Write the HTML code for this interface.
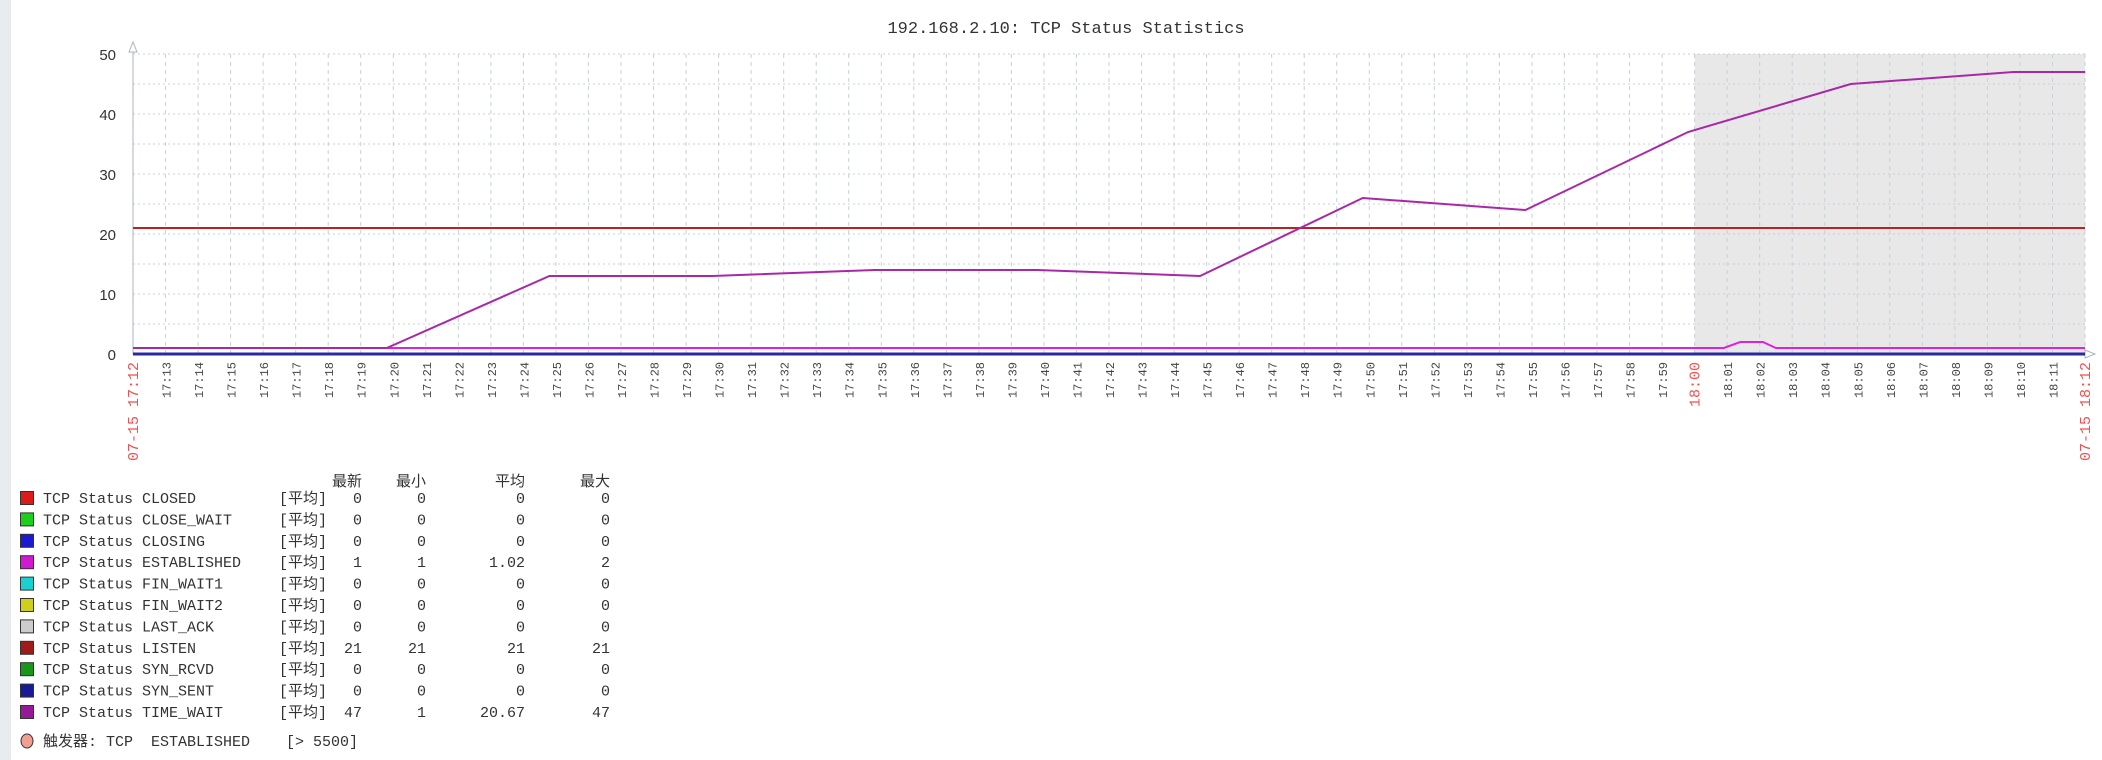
<!DOCTYPE html>
<html><head><meta charset="utf-8">
<style>
body{margin:0;width:2102px;height:760px;background:#fff;overflow:hidden;font-family:"Liberation Mono","Noto Sans CJK SC",monospace;}
#strip{position:absolute;left:0;top:0;width:11px;height:760px;background:#e8ecf0;}
svg{position:absolute;left:0;top:0;}
svg text{white-space:pre;}
</style></head><body>
<div id="strip"></div>
<svg id="chart" width="2102" height="760"></svg>
<script>
const yTicks=[0,10,20,30,40,50];
const minuteLabels=[];for(let i=13;i<=59;i++)minuteLabels.push("17:"+i);for(let i=0;i<=11;i++)minuteLabels.push("18:"+String(i).padStart(2,"0"));
const timeWaitT=[0,7.8,12.8,17.8,22.8,27.8,32.8,37.8,42.8,47.8,52.8,57.8,60];
const timeWaitV=[1,1,13,13,14,14,13,26,24,37,45,47,47];
const establishedT=[0,48.9,49.4,50.1,50.5,60];
const establishedV=[1,1,2,2,1,1];
const listenT=[0,60];const listenV=[21,21];
const zeroT=[0,60];const zeroV=[0,0];
const legendNames=["CLOSED","CLOSE_WAIT","CLOSING","ESTABLISHED","FIN_WAIT1","FIN_WAIT2","LAST_ACK","LISTEN","SYN_RCVD","SYN_SENT","TIME_WAIT"];
const legendColors=["#dd1a1a","#1ad01a","#1a1ad0","#d01ad0","#1ad0d0","#d0d01a","#cccccc","#a01a1a","#1a961a","#1a1a96","#961a96"];
const legendLast=["0","0","0","1","0","0","0","21","0","0","47"];
const legendMin=["0","0","0","1","0","0","0","21","0","0","1"];
const legendAvg=["0","0","0","1.02","0","0","0","21","0","0","20.67"];
const legendMax=["0","0","0","2","0","0","0","21","0","0","47"];

const NS="http://www.w3.org/2000/svg";const svg=document.getElementById("chart");
const X0=133,X1=2085,Y0=354,Y50=54;
const xs=t=>X0+(X1-X0)*t/60;const ys=v=>Y0+(Y50-Y0)*v/50;
function el(tag,a,p){const e=document.createElementNS(NS,tag);for(const k in a)e.setAttribute(k,a[k]);(p||svg).appendChild(e);return e;}
let e;
e=el("rect",{x:xs(48),y:Y50,width:X1-xs(48),height:Y0-Y50,fill:"#e8e8e8"});


e=el("text",{x:1066,y:33,"text-anchor":"middle","font-size":"17",fill:"#333"});e.textContent="192.168.2.10: TCP Status Statistics";


for(let v=5;v<=50;v+=5){e=el("line",{x1:X0,x2:X1,y1:ys(v),y2:ys(v),stroke:"#c8d0da","stroke-dasharray":"2,3"});

}
for(let m=1;m<=60;m++){e=el("line",{x1:xs(m),x2:xs(m),y1:Y50,y2:Y0,stroke:"#c8d0da","stroke-dasharray":"4,4"});

}
yTicks.forEach(v=>{e=el("text",{x:X0-17,y:ys(v)+6,"text-anchor":"end","font-size":"15",fill:"#333","font-family":"Liberation Sans, sans-serif"});e.textContent=v;

});
minuteLabels.forEach((s,i)=>{const x=xs(i+1);const red=s==="18:00";
e=el("text",{transform:`translate(${x+5},${Y0+8}) rotate(-90)`,"text-anchor":"end","font-size":red?"15":"12",fill:red?"#f05050":"#444"});e.textContent=s;

});
[[X0,"07-15 17:12"],[X1,"07-15 18:12"]].forEach(([x,s])=>{e=el("text",{transform:`translate(${x+5},${Y0+8}) rotate(-90)`,"text-anchor":"end","font-size":"15",fill:"#f05050"});e.textContent=s;

});
e=el("line",{x1:X0,x2:X0,y1:Y0,y2:44,stroke:"#a8b4c0"});
e=el("path",{d:`M${X0-4},52 L${X0},42 L${X0+4},52 Z`,fill:"#fff",stroke:"#a8b4c0"});
e=el("path",{d:`M${X1},350 L${X1+10},354 L${X1},358 Z`,fill:"#fff",stroke:"#a8b4c0"});
function series(T,V,c,w,name){const d=T.map((t,i)=>(i?"L":"M")+xs(t)+","+ys(V[i])).join(" ");
const p=el("path",{d:d,fill:"none",stroke:c,"stroke-width":w});

}
series(zeroT,zeroV,"#2a2aa0",3,"zero-series-line");
series(listenT,listenV,"#c02020",2,"listen-line");
series(establishedT,establishedV,"#e020e0",2,"established-line");
series(timeWaitT,timeWaitV,"#a828a8",2,"time-wait-line");
const cols=[362,426,525,610];const hdr=["最新","最小","平均","最大"];
hdr.forEach((h,i)=>{e=el("text",{x:cols[i],y:486,"text-anchor":"end","font-size":"15",fill:"#333"});e.textContent=h;

});
legendNames.forEach((n,i)=>{const y=503+i*21.4;
e=el("rect",{x:20.5,y:y-11.5,width:13,height:13,fill:legendColors[i],stroke:"#333"});


e=el("text",{x:43,y:y,"font-size":"15",fill:"#333"});e.textContent="TCP Status "+n;


e=el("text",{x:279,y:y,"font-size":"15",fill:"#333"});e.textContent="[平均]";


[legendLast,legendMin,legendAvg,legendMax].forEach((arr,j)=>{e=el("text",{x:cols[j],y:y,"text-anchor":"end","font-size":"15",fill:"#333"});e.textContent=arr[i];

});});
e=el("ellipse",{cx:27,cy:741,rx:6,ry:7,fill:"#f0a090",stroke:"#333"});
e=el("text",{x:43,y:746,"font-size":"15",fill:"#333"});e.textContent="触发器: TCP  ESTABLISHED    [> 5500]";


</script>
</body></html>
